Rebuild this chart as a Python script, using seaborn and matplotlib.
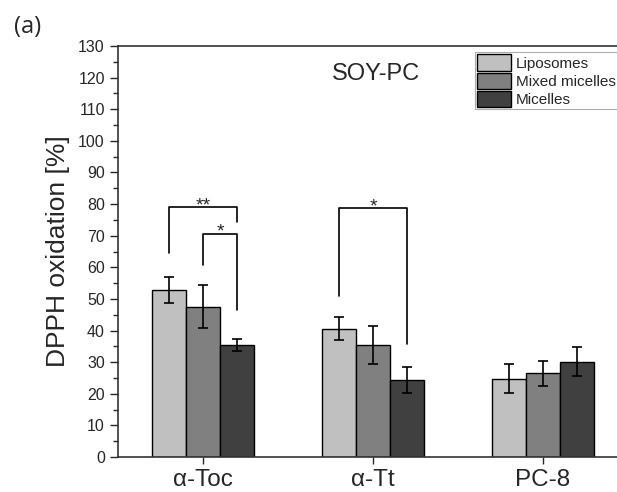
import matplotlib
matplotlib.use("Agg")
import matplotlib.pyplot as plt
from matplotlib.ticker import MultipleLocator
import seaborn as sns
import pandas as pd
import numpy as np

categories = ["α-Toc", "α-Tt", "PC-8"]
series = ["Liposomes", "Mixed micelles", "Micelles"]
liposomes = [52.8, 40.6, 24.7]
mixed_micelles = [47.6, 35.4, 26.5]
micelles = [35.4, 24.4, 30.2]
liposomes_err = [4.2, 3.6, 4.6]
mixed_micelles_err = [6.7, 6.0, 4.0]
micelles_err = [1.9, 4.0, 4.6]
colors = ["#c0c0c0", "#808080", "#404040"]

# significance brackets: (x_left, y_left, x_right, y_right, y_top, label)
brackets = [
    (-0.2, 64.4, 0.2, 74.3, 79.0, "**"),
    (0.0, 60.8, 0.2, 46.5, 70.6, "*"),
    (0.8, 51.0, 1.2, 35.8, 78.7, "*"),
]

sns.set_style("ticks")
plt.rcParams["font.family"] = ["Liberation Sans", "DejaVu Sans"]

df = pd.DataFrame({
    "category": categories * 3,
    "series": [s for s in series for _ in categories],
    "value": liposomes + mixed_micelles + micelles,
    "err": liposomes_err + mixed_micelles_err + micelles_err,
})

fig = plt.figure(figsize=(6.17, 4.92), dpi=100)
ax = fig.add_axes([0.1913, 0.0711, 0.8266, 0.8354])

sns.barplot(data=df, x="category", y="value", hue="series", order=categories,
            hue_order=series, palette=colors, width=0.6, gap=0, errorbar=None,
            edgecolor="black", linewidth=1.0, saturation=1, ax=ax)

# error bars at the bar centers
for container, s in zip(ax.containers, series):
    sub = df[df["series"] == s].set_index("category").loc[categories]
    xs = [p.get_x() + p.get_width() / 2 for p in container.patches]
    ax.errorbar(xs, sub["value"].values, yerr=sub["err"].values, fmt="none",
                ecolor="black", elinewidth=1.2, capsize=3.5, capthick=1.2, zorder=5)

for xl, yl, xr, yr, yt, lab in brackets:
    ax.plot([xl, xl, xr, xr], [yl, yt, yt, yr], color="black", lw=1.2)
    ax.text((xl + xr) / 2, yt - 0.9, lab, ha="center", va="baseline", fontsize=14)

ax.set_xlim(-0.5, 2.5)
ax.set_ylim(0, 130)
ax.yaxis.set_major_locator(MultipleLocator(10))
ax.yaxis.set_minor_locator(MultipleLocator(5))
ax.tick_params(axis="y", which="major", length=6, width=1, labelsize=11.5, direction="out")
ax.tick_params(axis="y", which="minor", length=3.5, width=1, direction="out")
ax.tick_params(axis="x", length=5, width=1, labelsize=17.5, direction="out")
ax.set_xlabel("")
ax.set_ylabel("DPPH oxidation [%]", fontsize=19, labelpad=6)
for name, sp in ax.spines.items():
    sp.set_linewidth(1.2)
    sp.set_color("#333333")
ax.spines["right"].set_visible(False)
ax.spines["top"].set_visible(True)

ax.text(1.02, 121, "SOY-PC", fontsize=17, ha="center", va="center")

leg = ax.legend(loc="upper left", bbox_to_anchor=(0.700, 0.985), frameon=True,
                fontsize=11, handlelength=2.2, handleheight=1.25,
                handletextpad=0.3, labelspacing=0.12, borderpad=0.15,
                borderaxespad=0, fancybox=False, edgecolor="#999999")
leg.get_frame().set_linewidth(0.8)

fig.text(0.0227, 0.945, "(a)", fontsize=17, ha="left", va="center",
         family=["Open Sans", "DejaVu Sans"])

fig.savefig("out.png", dpi=100)
